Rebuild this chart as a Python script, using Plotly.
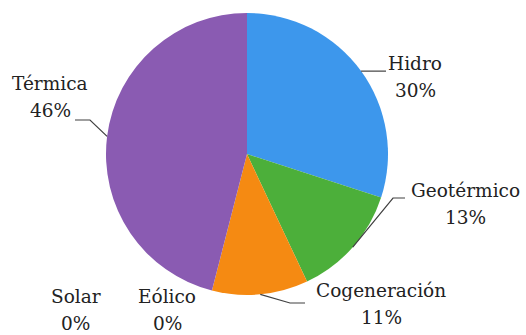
import math
import plotly.graph_objects as go

# Electricity generation share by source
sources = ["Hidro", "Geotérmico", "Cogeneración", "Solar", "Eólico", "Térmica"]
shares = [30, 13, 11, 0, 0, 46]
colors = ["#3d97ec", "#4caf3a", "#f58a12", "#f5c518", "#2a8fd0", "#8a5bb2"]

W, H = 526, 335
CX, CY, R = 247, 154, 141  # pie centre and radius in pixels
FONT = "DejaVu Serif"
FONT_SIZE = 18.5
LINE_GAP = 27  # distance between name line and percentage line

# label centres (name line) and leader-line elbows (pixels)
label_pos = {
    "Hidro": (415, 63),
    "Geotérmico": (465, 190),
    "Cogeneración": (381, 290),
    "Térmica": (50, 83),
    "Solar": (76, 296),
    "Eólico": (167, 296),
}
leader = {
    "Hidro": [(386, None)],
    "Geotérmico": [(393, 198), (405, 198)],
    "Cogeneración": [(290, 303), (305, 303)],
    "Térmica": [(90, 120), (75, 120)],
}


def px(x):
    return x / W


def py(y):
    return 1 - y / H


fig = go.Figure(
    go.Pie(
        labels=sources,
        values=shares,
        sort=False,
        direction="clockwise",
        rotation=0,
        marker=dict(colors=colors, line=dict(width=0)),
        textinfo="none",
        hoverinfo="label+percent",
        domain=dict(x=[px(CX - R), px(CX + R)], y=[py(CY + R), py(CY - R)]),
        showlegend=False,
    )
)

total = sum(shares)
annotations = []
shapes = []
cum = 0
for name, v in zip(sources, shares):
    mid = (cum + v / 2) / total * 2 * math.pi
    cum += v
    ex = CX + R * math.sin(mid)
    ey = CY - R * math.cos(mid)
    pct = f"{round(v / total * 100)}%"
    lx, ly = label_pos[name]
    for text, yy in ((name, ly), (pct, ly + LINE_GAP)):
        annotations.append(
            dict(
                x=px(lx), y=py(yy), xref="paper", yref="paper",
                text=text, showarrow=False,
                xanchor="center", yanchor="middle", align="center",
                font=dict(family=FONT, size=FONT_SIZE, color="#222222"),
            )
        )
    if name in leader:
        pts = [(ex, ey)]
        for x, y in leader[name]:
            pts.append((x, ey if y is None else y))
        path = "M " + " L ".join(f"{px(x)},{py(y)}" for x, y in pts)
        shapes.append(
            dict(type="path", path=path, xref="paper", yref="paper",
                 line=dict(color="#404040", width=1.2))
        )

fig.update_layout(
    width=W, height=H,
    margin=dict(l=0, r=0, t=0, b=0),
    paper_bgcolor="white", plot_bgcolor="white",
    font=dict(family=FONT),
    annotations=annotations,
    shapes=shapes,
)

fig.write_html("out.html")
